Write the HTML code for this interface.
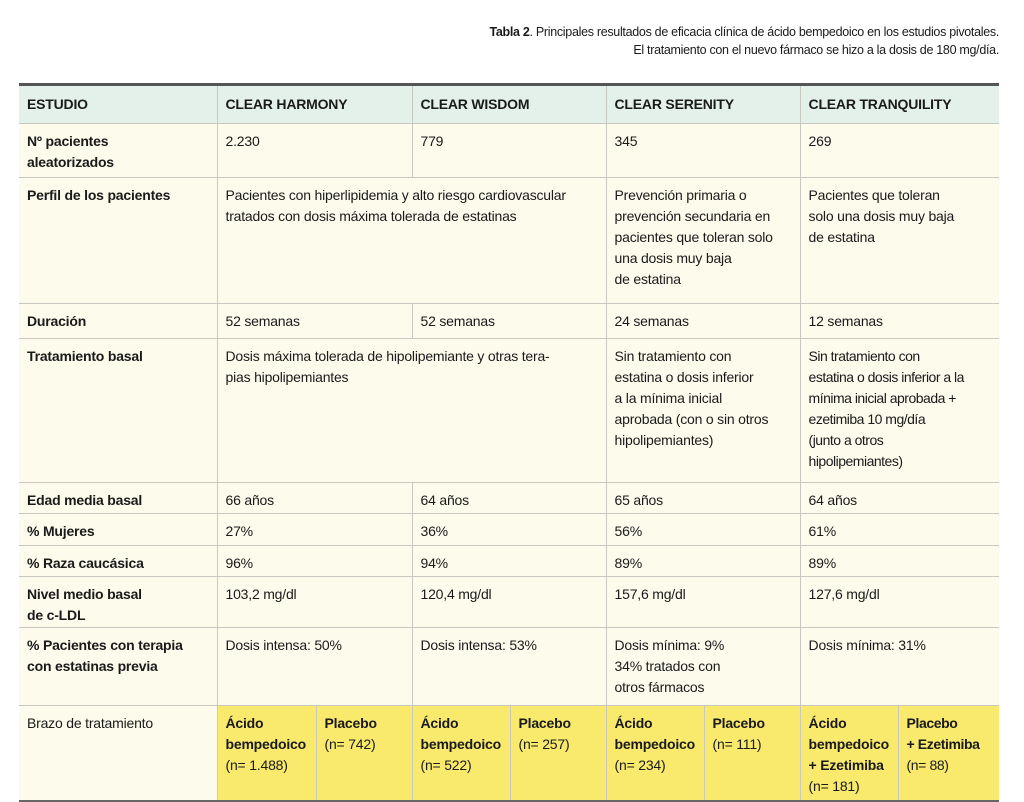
<!DOCTYPE html>
<html><head><meta charset="utf-8">
<style>
body{margin:0;width:1024px;height:802px;background:#fff;font-family:"Liberation Sans",sans-serif;color:#1a1a1a;position:relative;overflow:hidden}
.cap{position:absolute;right:25px;top:23px;text-align:right;font-size:12.5px;line-height:18px;letter-spacing:-0.3px}
table{position:absolute;left:19px;top:83px;width:980px;border-collapse:collapse;table-layout:fixed;font-size:14px;line-height:21px;letter-spacing:-0.2px;border-top:3px solid #555;border-bottom:2px solid #666}
td{border:1px solid #c8c8c0;padding:7px 8px 0 8px;vertical-align:top;background:#fdfbec;overflow:hidden;white-space:nowrap}
td.w{white-space:normal}
tr td:first-child{border-left:none;font-weight:bold}
tr td:last-child{border-right:none}
tr.h td{background:#e4f1ea;font-weight:bold;vertical-align:middle;padding-top:0}
td.y{background:#f9ea6e}
b{font-weight:bold}
</style></head><body>
<div class="cap"><b>Tabla 2</b>. Principales resultados de eficacia clínica de ácido bempedoico en los estudios pivotales.<br>El tratamiento con el nuevo fármaco se hizo a la dosis de 180 mg/día.</div>
<table>
<colgroup><col style="width:198px"><col style="width:99px"><col style="width:96px"><col style="width:98px"><col style="width:96px"><col style="width:98px"><col style="width:96px"><col style="width:98px"><col style="width:101px"></colgroup>
<tr class="h" style="height:39px"><td>ESTUDIO</td><td colspan="2">CLEAR HARMONY</td><td colspan="2">CLEAR WISDOM</td><td colspan="2">CLEAR SERENITY</td><td colspan="2">CLEAR TRANQUILITY</td></tr>
<tr style="height:54px"><td>Nº pacientes<br>aleatorizados</td><td colspan="2">2.230</td><td colspan="2">779</td><td colspan="2">345</td><td colspan="2">269</td></tr>
<tr style="height:126px"><td>Perfil de los pacientes</td><td colspan="4">Pacientes con hiperlipidemia y alto riesgo cardiovascular<br>tratados con dosis máxima tolerada de estatinas</td><td colspan="2">Prevención primaria o<br>prevención secundaria en<br>pacientes que toleran solo<br>una dosis muy baja<br>de estatina</td><td colspan="2">Pacientes que toleran<br>solo una dosis muy baja<br>de estatina</td></tr>
<tr style="height:35px"><td>Duración</td><td colspan="2">52 semanas</td><td colspan="2">52 semanas</td><td colspan="2">24 semanas</td><td colspan="2">12 semanas</td></tr>
<tr style="height:144px"><td>Tratamiento basal</td><td colspan="4">Dosis máxima tolerada de hipolipemiante y otras tera-<br>pias hipolipemiantes</td><td colspan="2">Sin tratamiento con<br>estatina o dosis inferior<br>a la mínima inicial<br>aprobada (con o sin otros<br>hipolipemiantes)</td><td colspan="2" style="letter-spacing:-0.5px">Sin tratamiento con<br>estatina o dosis inferior a la<br>mínima inicial aprobada +<br>ezetimiba 10 mg/día<br>(junto a otros<br>hipolipemiantes)</td></tr>
<tr style="height:31px"><td>Edad media basal</td><td colspan="2">66 años</td><td colspan="2">64 años</td><td colspan="2">65 años</td><td colspan="2">64 años</td></tr>
<tr style="height:32px"><td>% Mujeres</td><td colspan="2">27%</td><td colspan="2">36%</td><td colspan="2">56%</td><td colspan="2">61%</td></tr>
<tr style="height:31px"><td>% Raza caucásica</td><td colspan="2">96%</td><td colspan="2">94%</td><td colspan="2">89%</td><td colspan="2">89%</td></tr>
<tr style="height:51px"><td>Nivel medio basal<br>de c-LDL</td><td colspan="2">103,2 mg/dl</td><td colspan="2">120,4 mg/dl</td><td colspan="2">157,6 mg/dl</td><td colspan="2">127,6 mg/dl</td></tr>
<tr style="height:78px"><td>% Pacientes con terapia<br>con estatinas previa</td><td colspan="2">Dosis intensa: 50%</td><td colspan="2">Dosis intensa: 53%</td><td colspan="2">Dosis mínima: 9%<br>34% tratados con<br>otros fármacos</td><td colspan="2">Dosis mínima: 31%</td></tr>
<tr style="height:95px"><td style="font-weight:normal">Brazo de tratamiento</td>
<td class="y"><b>Ácido<br>bempedoico</b><br>(n= 1.488)</td><td class="y"><b>Placebo</b><br>(n= 742)</td>
<td class="y"><b>Ácido<br>bempedoico</b><br>(n= 522)</td><td class="y"><b>Placebo</b><br>(n= 257)</td>
<td class="y"><b>Ácido<br>bempedoico</b><br>(n= 234)</td><td class="y"><b>Placebo</b><br>(n= 111)</td>
<td class="y"><b>Ácido<br>bempedoico<br>+ Ezetimiba</b><br>(n= 181)</td><td class="y" style="letter-spacing:-0.4px"><b>Placebo<br>+ Ezetimiba</b><br>(n= 88)</td></tr>
</table>
</body></html>
